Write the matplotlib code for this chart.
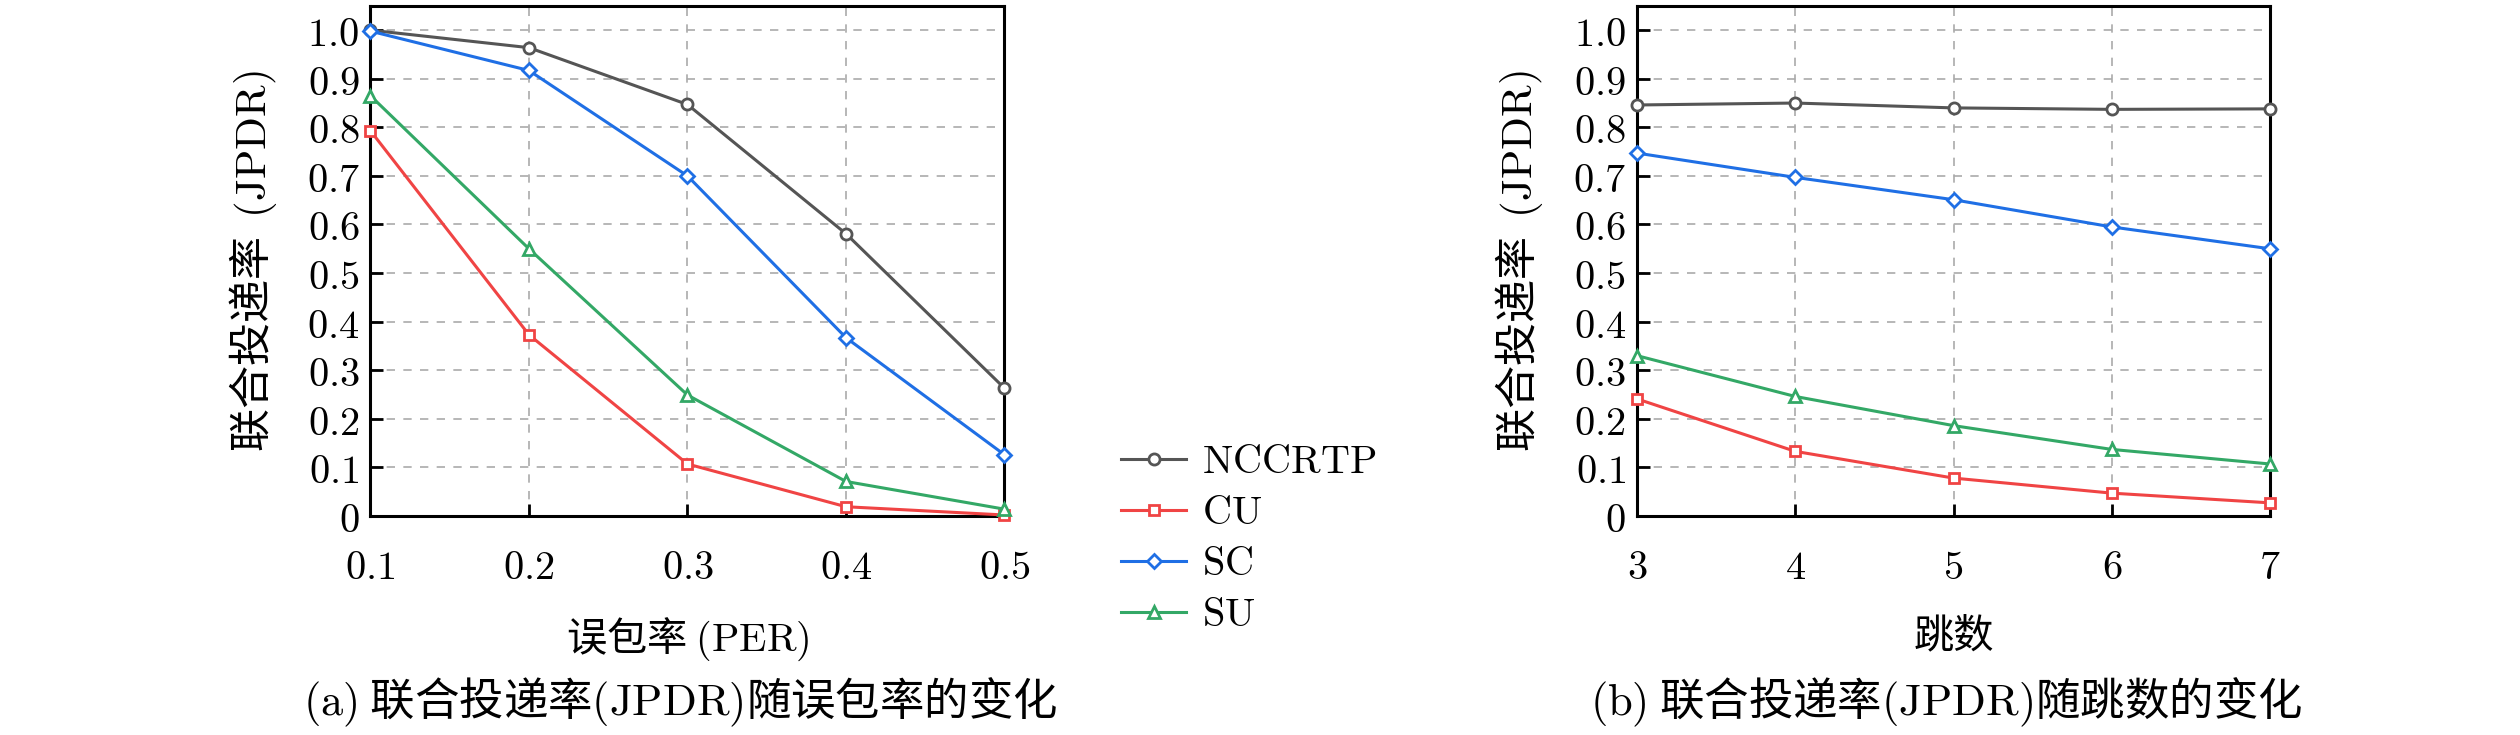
import matplotlib
matplotlib.use("Agg")
import matplotlib.pyplot as plt

plt.rcParams['font.family'] = ['Noto Sans CJK SC', 'DejaVu Sans']
plt.rcParams['mathtext.fontset'] = 'cm'

# data
per = [0.1, 0.2, 0.3, 0.4, 0.5]
hops = [3, 4, 5, 6, 7]
series_names = ['NCCRTP', 'CU', 'SC', 'SU']

per_nccrtp = [1.0, 0.964, 0.847, 0.581, 0.263]
per_cu = [0.793, 0.373, 0.107, 0.019, 0.002]
per_sc = [0.998, 0.917, 0.700, 0.367, 0.126]
per_su = [0.865, 0.550, 0.249, 0.071, 0.014]

hop_nccrtp = [0.846, 0.850, 0.840, 0.837, 0.838]
hop_cu = [0.241, 0.133, 0.078, 0.047, 0.027]
hop_sc = [0.747, 0.697, 0.651, 0.595, 0.550]
hop_su = [0.330, 0.246, 0.186, 0.137, 0.107]

y_ticks = [0, 0.1, 0.2, 0.3, 0.4, 0.5, 0.6, 0.7, 0.8, 0.9, 1.0]
y_tick_labels = ['0', '0.1', '0.2', '0.3', '0.4', '0.5', '0.6', '0.7', '0.8', '0.9', '1.0']

colors = ['#555555', '#f04444', '#1f6fe5', '#33a866']
markers = ['o', 's', 'D', '^']
msizes = [8, 7, 7.5, 8.5]

FS = 29


def style_axes(ax, xticks, xlabel, caption):
    ax.set_ylim(0, 1.05)
    ax.set_xlim(xticks[0], xticks[-1])
    ax.set_yticks(y_ticks)
    ax.set_yticklabels(['$%s$' % t for t in y_tick_labels], fontsize=FS)
    ax.set_xticks(xticks)
    ax.set_xticklabels(['$%s$' % t for t in xticks], fontsize=FS)
    ax.tick_params(direction='in', length=9, width=2, top=False, right=False)
    ax.tick_params(axis='x', pad=22)
    ax.tick_params(axis='y', pad=8)
    for sp in ax.spines.values():
        sp.set_linewidth(2.2)
    ax.grid(True, color='#aaaaaa', linestyle=(0, (5, 5)), linewidth=1.2)
    ax.set_axisbelow(True)
    ax.set_ylabel('联合投递率  $\\mathrm{(JPDR)}$', fontsize=31, labelpad=20)
    ax.set_xlabel(xlabel, fontsize=FS, labelpad=20)
    pos = ax.get_position()
    fig.text((pos.x0 + pos.x1) / 2 - 0.003, 0.044, caption, fontsize=32,
             ha='center', va='center')


fig = plt.figure(figsize=(25.2, 7.35), dpi=100)
ax1 = fig.add_axes([0.147, 0.298, 0.2516, 0.694])
ax2 = fig.add_axes([0.6496, 0.298, 0.2512, 0.694])

per_data = [per_nccrtp, per_cu, per_sc, per_su]
hop_data = [hop_nccrtp, hop_cu, hop_sc, hop_su]

handles = []
for i, name in enumerate(series_names):
    h, = ax1.plot(per, per_data[i], color=colors[i], marker=markers[i],
                  markersize=msizes[i], markerfacecolor='white',
                  markeredgewidth=2, linewidth=2.2, clip_on=False, zorder=3,
                  label='$\\mathrm{%s}$' % name)
    ax2.plot(hops, hop_data[i], color=colors[i], marker=markers[i],
             markersize=msizes[i], markerfacecolor='white',
             markeredgewidth=2, linewidth=2.2, clip_on=False, zorder=3)
    handles.append(h)

style_axes(ax1, per, '误包率 $\\mathrm{(PER)}$',
           '$\\mathrm{(a)}$ 联合投递率$\\mathrm{(JPDR)}$随误包率的变化')
style_axes(ax2, hops, '跳数',
           '$\\mathrm{(b)}$ 联合投递率$\\mathrm{(JPDR)}$随跳数的变化')

fig.legend(handles=handles, loc='center left', bbox_to_anchor=(0.445, 0.268),
           frameon=False, fontsize=FS, handlelength=1.6, handletextpad=0.4,
           labelspacing=0.25, borderpad=0, borderaxespad=0)

fig.savefig('out.png', dpi=100)
